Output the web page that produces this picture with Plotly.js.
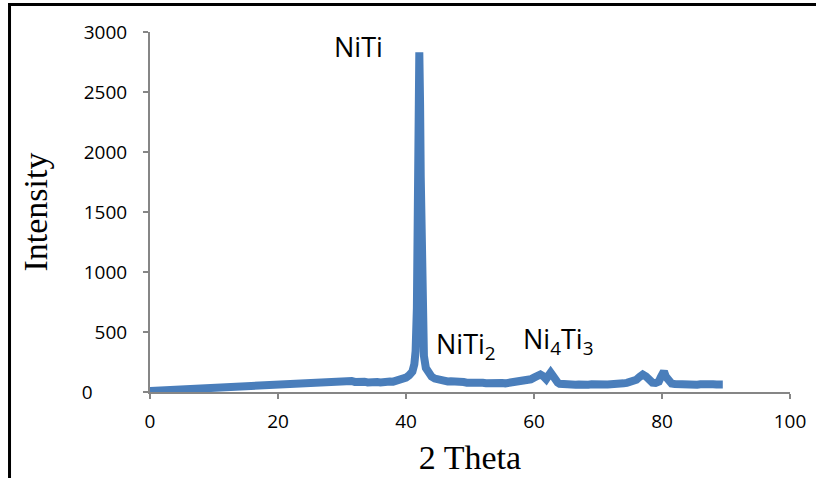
<!DOCTYPE html>
<html>
<head>
<meta charset="utf-8">
<script src="https://cdn.plot.ly/plotly-3.0.1.min.js"></script>
<style>html,body{margin:0;padding:0;background:#fff;}#chart{width:816px;height:478px;}</style>
</head>
<body>
<div id="chart"></div>
<script>
// 2 Theta (degrees)
const twoTheta = [0,
  30, 30.5, 31, 31.5, 32, 32.5, 33, 33.5, 34, 34.5, 35, 35.5, 36, 36.5, 37, 37.5, 38, 38.5, 39, 39.5,
  40, 40.5, 41, 41.3, 41.5, 41.7, 41.85, 41.95, 42.03, 42.08, 42.13, 42.2, 42.3, 42.45, 42.6, 42.8, 43.1, 43.5, 44, 44.5,
  45, 45.5, 46, 46.5, 47, 47.5, 48, 48.5, 49, 49.5, 50, 50.5, 51, 51.5, 52, 52.5, 53, 53.5, 54, 54.5,
  55, 55.5, 56, 56.5, 57, 57.5, 58, 58.5, 59, 59.5, 60, 60.5, 61, 61.5, 61.9, 62.3, 62.6, 62.9, 63.3, 63.7,
  64, 64.5, 65, 65.5, 66, 66.5, 67, 67.5, 68, 68.5, 69, 69.5, 70, 70.5, 71, 71.5, 72, 72.5, 73, 73.5,
  74, 74.5, 75, 75.5, 76, 76.5, 77, 77.5, 78, 78.5, 79, 79.5, 79.8, 80.1, 80.3, 80.6, 81, 81.5,
  82, 82.5, 83, 83.5, 84, 84.5, 85, 85.5, 86, 86.5, 87, 87.5, 88, 88.5, 89, 89.5];
// Intensity (counts)
const intensity = [8,
  98, 90, 86, 92, 84, 88, 82, 86, 80, 85, 79, 84, 80, 86, 82, 88, 86, 92, 98, 108,
  120, 140, 170, 230, 340, 700, 1500, 2300, 2740, 2830, 2720, 2400, 1800, 1000, 500, 300, 200, 155, 128, 112,
  102, 96, 92, 88, 90, 84, 86, 80, 83, 78, 80, 76, 79, 74, 77, 73, 76, 72, 75, 71,
  74, 72, 75, 73, 76, 78, 82, 86, 94, 106, 120, 136, 146, 130, 108, 140, 162, 140, 98, 78,
  68, 64, 66, 61, 64, 60, 63, 59, 62, 60, 64, 61, 63, 60, 64, 62, 65, 63, 66, 68,
  72, 76, 82, 90, 102, 126, 145, 130, 96, 78, 76, 86, 122, 165, 172, 128, 86, 70,
  66, 63, 66, 61, 64, 60, 63, 61, 64, 60, 63, 61, 64, 62, 65, 62];

const xTicks = [0, 20, 40, 60, 80, 100];
const yTicks = [0, 500, 1000, 1500, 2000, 2500, 3000];
// the "0" label sits further left in the reference, padded with non-breaking spaces
const yTickText = ['0\u00a0\u00a0\u00a0\u00a0\u00a0\u00a0\u00a0', '500', '1000', '1500', '2000', '2500', '3000'];
const peakLabels = ['NiTi', 'NiTi<sub>2</sub>', 'Ni<sub>4</sub>Ti<sub>3</sub>'];

const axisColor = '#868686';
const tickFont = {family: 'Open Sans, sans-serif', size: 19, color: '#000'};
const labelFont = {family: 'Open Sans, sans-serif', size: 27, color: '#000'};
const titleFont = {family: 'Liberation Serif, Times New Roman, serif', size: 34, color: '#000'};

const trace = {
  x: twoTheta, y: intensity, type: 'scatter', mode: 'lines',
  line: {color: '#4a7ebb', width: 8, shape: 'linear'},
  showlegend: false, hoverinfo: 'x+y'
};

const layout = {
  width: 816, height: 478,
  margin: {l: 150, r: 26, t: 32, b: 86, pad: 0},
  paper_bgcolor: '#fff', plot_bgcolor: '#fff',
  xaxis: {
    range: [0, 100], tickvals: xTicks, ticktext: xTicks.map(String),
    showgrid: false, zeroline: false, showline: true, linecolor: axisColor, linewidth: 2,
    ticks: 'outside', ticklen: 5, tickwidth: 2, tickcolor: axisColor,
    tickfont: tickFont, ticklabelstandoff: 6,
    title: {text: '2 Theta', font: titleFont, standoff: 12}
  },
  yaxis: {
    range: [0, 3000], tickvals: yTicks, ticktext: yTickText,
    showgrid: false, zeroline: false, showline: true, linecolor: axisColor, linewidth: 2,
    ticks: 'outside', ticklen: 5, tickwidth: 2, tickcolor: axisColor,
    tickfont: tickFont, ticklabelstandoff: 12,
    title: {text: 'Intensity', font: titleFont, standoff: 24}
  },
  annotations: [
    {text: peakLabels[0], x: 0.326, y: 0.961, xref: 'paper', yref: 'paper', xanchor: 'center', yanchor: 'middle', showarrow: false, font: labelFont},
    {text: peakLabels[1], x: 0.444, y: 0.128, xref: 'paper', yref: 'paper', xanchor: 'left', yanchor: 'middle', showarrow: false, font: labelFont},
    {text: peakLabels[2], x: 0.579, y: 0.143, xref: 'paper', yref: 'paper', xanchor: 'left', yanchor: 'middle', showarrow: false, font: labelFont}
  ],
  shapes: [
    {type: 'path', xref: 'paper', yref: 'paper',
     path: 'M -0.2195,-0.3 L -0.2195,1.0764 L 1.1,1.0764',
     line: {color: '#000', width: 3}}
  ]
};

Plotly.newPlot('chart', [trace], layout, {displayModeBar: false, staticPlot: true});
</script>
</body>
</html>
